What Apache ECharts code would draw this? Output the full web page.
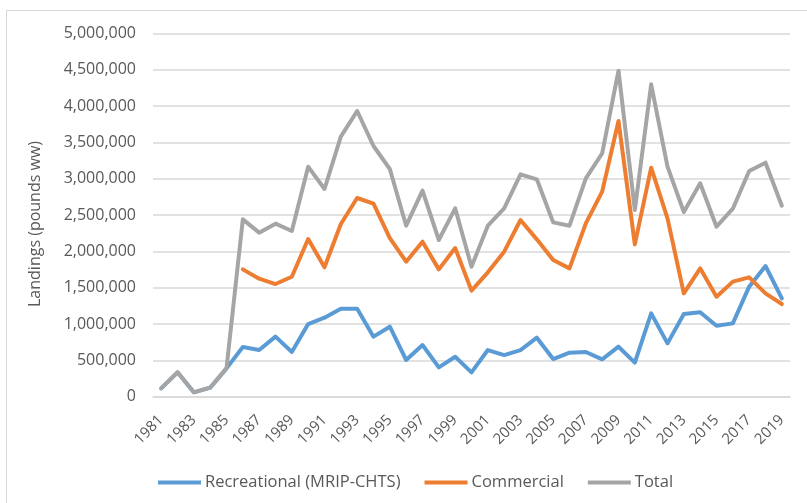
<!DOCTYPE html>
<html><head><meta charset="utf-8">
<script src="https://cdn.jsdelivr.net/npm/echarts@6/dist/echarts.min.js"></script>
<style>
html,body{margin:0;padding:0;background:#fff;overflow:hidden}
#frame{position:absolute;left:6px;top:10px;width:900px;height:600px;border:1.5px solid #d9d9d9}
#c{position:absolute;left:0;top:0;width:807px;height:503px}
</style></head>
<body><div id="frame"></div><div id="c"></div>
<script>
const years = [];
for (let y = 1981; y <= 2019; y++) years.push(String(y));
const recreational = [115000,335000,60000,124000,390000,683000,642000,826000,615000,1000000,1087000,1211000,1211000,826000,963000,505000,711000,404000,550000,335000,642000,573000,642000,812000,518000,605000,615000,514000,688000,468000,1147000,734000,1138000,1161000,977000,1009000,1514000,1798000,1353000];
const commercial = [null,null,null,null,null,1752000,1624000,1550000,1651000,2170000,1780000,2376000,2734000,2656000,2183000,1858000,2133000,1752000,2046000,1459000,1711000,1995000,2431000,2165000,1881000,1766000,2385000,2821000,3793000,2096000,3151000,2454000,1422000,1766000,1376000,1583000,1642000,1422000,1275000];
const total = [115000,335000,60000,124000,390000,2440000,2257000,2381000,2280000,3165000,2858000,3578000,3931000,3449000,3133000,2353000,2835000,2156000,2592000,1789000,2353000,2592000,3060000,2991000,2399000,2353000,3004000,3349000,4486000,2569000,4298000,3165000,2541000,2936000,2339000,2587000,3105000,3220000,2628000];
const seriesNames = ['Recreational (MRIP-CHTS)','Commercial','Total'];
const colors = ['#5B9BD5','#ED7D31','#A5A5A5'];

const chart = echarts.init(document.getElementById('c'));
const font = 'Open Sans';
chart.setOption({
  animation:false,
  color: colors,
  grid:{left:153,right:17,top:33.3,bottom:106.3},
  legend:{
    data: seriesNames, top:469, left:153, icon:'rect', itemWidth:43, itemHeight:4, itemGap:24,
    textStyle:{fontFamily:font,fontSize:16.5,color:'#595959',padding:[0,0,0,-1]}
  },
  xAxis:{
    type:'category', data:years, boundaryGap:true,
    axisLine:{lineStyle:{color:'#d9d9d9',width:1.5}},
    axisTick:{show:false},
    axisLabel:{interval:1, rotate:45, fontFamily:font, fontSize:15, color:'#595959', margin:21}
  },
  yAxis:{
    type:'value', min:0, max:5000000, interval:500000,
    name:'Landings (pounds ww)', nameLocation:'middle', nameGap:110, nameRotate:90,
    nameTextStyle:{fontFamily:font,fontSize:16,color:'#595959',padding:[0,18,0,0]},
    axisLine:{show:false}, axisTick:{show:false},
    axisLabel:{fontFamily:font,fontSize:16,color:'#595959',margin:17,
      formatter:v=>v.toLocaleString('en-US')},
    splitLine:{lineStyle:{color:'#d9d9d9',width:1.5}}
  },
  series:[
    {name:seriesNames[0],type:'line',data:recreational,showSymbol:false,lineStyle:{width:4,cap:'round',join:'round'}},
    {name:seriesNames[1],type:'line',data:commercial,showSymbol:false,lineStyle:{width:4,cap:'round',join:'round'}},
    {name:seriesNames[2],type:'line',data:total,showSymbol:false,lineStyle:{width:4,cap:'round',join:'round'}}
  ]
});
</script></body></html>
